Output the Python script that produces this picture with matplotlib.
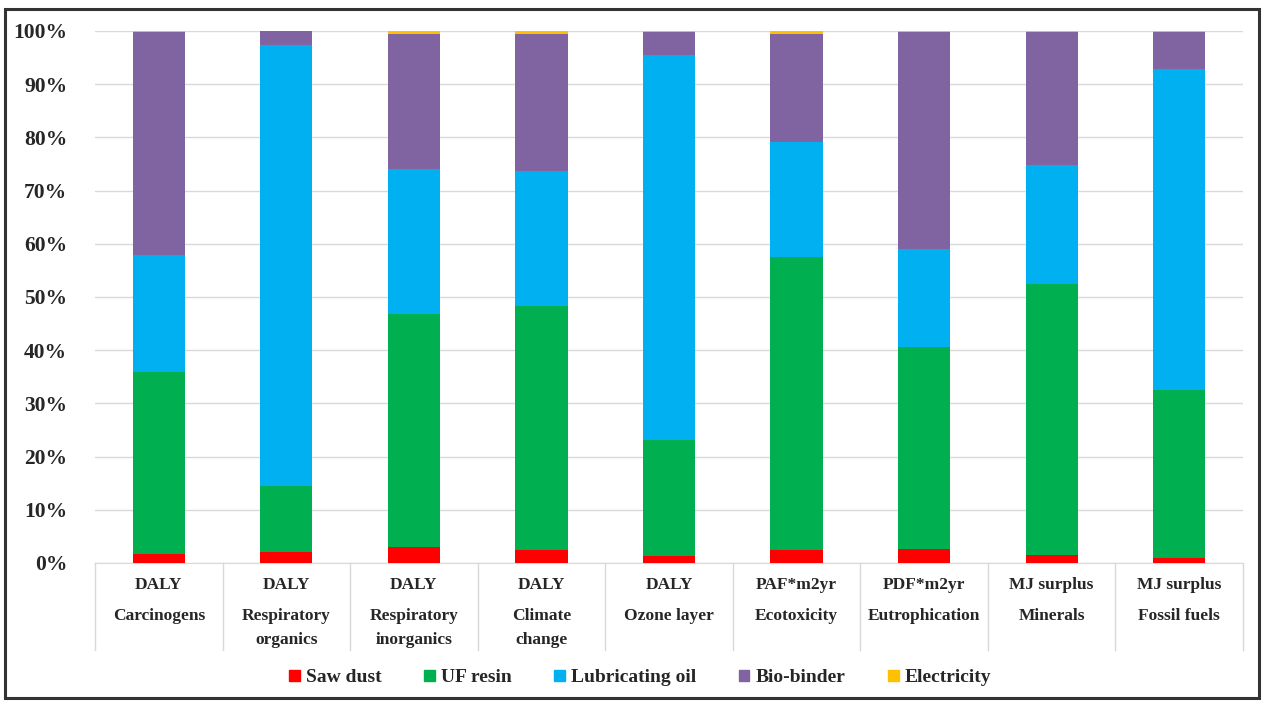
import matplotlib.pyplot as plt
from matplotlib.patches import Rectangle, Patch
from matplotlib.ticker import PercentFormatter
import numpy as np

plt.rcParams['font.family'] = ['Liberation Serif', 'DejaVu Serif']
plt.rcParams['font.weight'] = 'bold'

# datos (porcentaje de cada componente)
units = ['DALY', 'DALY', 'DALY', 'DALY', 'DALY', 'PAF*m2yr', 'PDF*m2yr', 'MJ surplus', 'MJ surplus']
names = ['Carcinogens', 'Respiratory\norganics', 'Respiratory\ninorganics', 'Climate\nchange',
         'Ozone layer', 'Ecotoxicity', 'Eutrophication', 'Minerals', 'Fossil fuels']
saw_dust = [1.7, 2.1, 3.0, 2.5, 1.3, 2.5, 2.7, 1.5, 1.0]
uf_resin = [34.2, 12.4, 43.8, 45.8, 21.8, 55.0, 37.9, 50.9, 31.5]
lub_oil = [22.0, 82.9, 27.2, 25.4, 72.4, 21.6, 18.4, 22.4, 60.3]
bio_binder = [41.9, 2.6, 25.5, 25.8, 4.3, 20.4, 40.8, 25.0, 7.0]
electricity = [0.2, 0.0, 0.5, 0.5, 0.2, 0.5, 0.2, 0.2, 0.2]

series = [('Saw dust', saw_dust, '#FF0000'),
          ('UF resin', uf_resin, '#00B050'),
          ('Lubricating oil', lub_oil, '#00B0F0'),
          ('Bio-binder', bio_binder, '#8064A2'),
          ('Electricity', electricity, '#FFC000')]

fig = plt.figure(figsize=(12.63, 7.02), dpi=100)
ax = fig.add_axes([95 / 1263, 1 - 563 / 702, 1148 / 1263, 532 / 702])

x = np.arange(len(names))
bottom = np.zeros(len(names))
for label, vals, color in series:
    vals = np.array(vals)
    ax.bar(x, vals, width=0.41, bottom=bottom, color=color, label=label, zorder=3)
    bottom += vals

ax.set_xlim(-0.5, len(names) - 0.5)
ax.set_ylim(0, 100)
ax.set_yticks(np.arange(0, 101, 10))
ax.yaxis.set_major_formatter(PercentFormatter(decimals=0))
ax.tick_params(axis='y', length=0, pad=20, labelsize=15.5, labelcolor='#262626')
ax.set_xticks([])
ax.grid(axis='y', color='#D9D9D9', linewidth=1, zorder=0)
for s in ['top', 'right', 'left']:
    ax.spines[s].set_visible(False)
ax.spines['bottom'].set_color('#D9D9D9')

# separadores y etiquetas de categoria
trans = ax.get_xaxis_transform()
for b in np.arange(-0.5, len(names), 1.0):
    ax.plot([b, b], [0, -87 / 532], transform=trans, color='#D9D9D9', lw=1, clip_on=False)
for i in range(len(names)):
    ax.text(i, -22 / 532, units[i], transform=trans, ha='center', va='center',
            fontsize=12.5, color='#262626')
    ax.text(i, -45 / 532, names[i], transform=trans, ha='center', va='top',
            fontsize=12.5, color='#262626', linespacing=1.65)

handles = [Patch(color=c, label=l) for l, v, c in series]
fig.legend(handles=handles, loc='center', bbox_to_anchor=(640 / 1263, 1 - 678 / 702),
           ncol=5, frameon=False, fontsize=14, handlelength=0.55, handleheight=0.55,
           handletextpad=0.3, columnspacing=2.2, labelcolor='#262626')

fig.patches.append(Rectangle((5 / 1263, 4 / 702), 1254 / 1263, 689 / 702, transform=fig.transFigure,
                             fill=False, edgecolor='#333333', linewidth=2.2))

fig.savefig('out.png', dpi=100)
